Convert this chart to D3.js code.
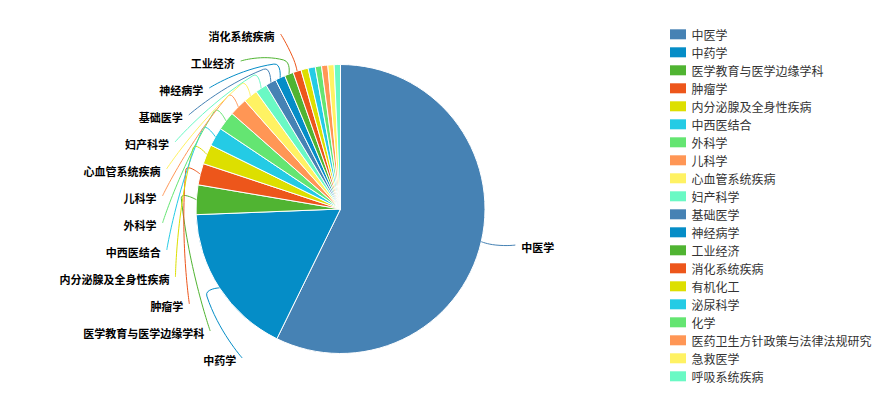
<!DOCTYPE html>
<html>
<head>
<meta charset="utf-8">
<script src="https://cdn.jsdelivr.net/npm/d3@7/dist/d3.min.js"></script>
<style>
  html, body { margin: 0; padding: 0; background: #fff; }
  svg { display: block; font-family: "Noto Sans CJK SC", "Microsoft YaHei", sans-serif; }
</style>
</head>
<body>
<svg id="chart" width="893" height="413"></svg>
<script>
// Subject distribution (number of records per discipline)
const categories = [
  "中医学", "中药学", "医学教育与医学边缘学科", "肿瘤学", "内分泌腺及全身性疾病",
  "中西医结合", "外科学", "儿科学", "心血管系统疾病", "妇产科学",
  "基础医学", "神经病学", "工业经济", "消化系统疾病", "有机化工",
  "泌尿科学", "化学", "医药卫生方针政策与法律法规研究", "急救医学", "呼吸系统疾病"
];
const values = [572, 171, 33, 24, 22, 21, 21, 20, 16, 13, 12, 11, 10, 9, 8, 8, 7, 7, 7, 7];
const palette = ["#4682B4", "#058DC7", "#50B432", "#ED561B", "#DDDF00",
                 "#24CBE5", "#64E572", "#FF9655", "#FFF263", "#6AF9C4"];

const W = 893, H = 413;
const cx = 340.5, cy = 209, r = 144.5;
const len1 = 15, len2 = 19;          // label-line segment lengths
const len2Far = 12;                   // second segment for labels above/below the ring
const rowH = 27;                      // vertical room per outside label
const labelGap = 6;                   // space between line end and text
const minLabelAngle = 3 * Math.PI / 180;
const bottomLimit = H - 55;

const svg = d3.select("#chart");
const color = d3.scaleOrdinal().domain(categories).range(palette);

const data = categories.map((name, i) => ({ name, value: values[i] }));
const arcs = d3.pie().sort(null).value(d => d.value)(data);
const arcGen = d3.arc().innerRadius(0).outerRadius(r);

// slices
svg.append("g")
  .attr("transform", `translate(${cx},${cy})`)
  .selectAll("path")
  .data(arcs)
  .join("path")
  .attr("d", arcGen)
  .attr("fill", d => color(d.data.name))
  .attr("stroke", "#fff")
  .attr("stroke-width", 1)
  .attr("stroke-linejoin", "round");

// outside labels
const labels = arcs
  .filter(a => a.endAngle - a.startAngle >= minLabelAngle)
  .map(a => {
    const mid = (a.startAngle + a.endAngle) / 2;
    const sx = Math.sin(mid), sy = -Math.cos(mid);
    return {
      a,
      dir: sx < 0 ? -1 : 1,
      A: [cx + r * sx, cy + r * sy],
      B: [cx + (r + len1) * sx, cy + (r + len1) * sy],
      y: cy + (r + len1) * sy
    };
  });

function layoutSide(list) {
  list.sort((p, q) => p.y - q.y);
  for (let i = 1; i < list.length; i++) {
    if (list[i].y < list[i - 1].y + rowH) list[i].y = list[i - 1].y + rowH;
  }
  const n = list.length;
  if (n && list[n - 1].y > bottomLimit) {
    const delta = list[n - 1].y - bottomLimit;
    for (let j = n - 1; j >= 0; j--) {
      list[j].y -= delta;
      if (j > 0 && list[j].y > list[j - 1].y + rowH) break;
    }
  }
  const Rl = r + len1 + len2;
  list.forEach(l => {
    const dy = Math.abs(l.y - cy);
    const dx = dy < r + len1 ? Math.sqrt(Rl * Rl - dy * dy) : Math.abs(l.B[0] - cx) + len2Far;
    l.C = [cx + l.dir * dx, l.y];
  });
}
layoutSide(labels.filter(l => l.dir < 0));
layoutSide(labels.filter(l => l.dir > 0));

function smoothLine(p0, p1, p2, s) {
  const v = [p2[0] - p0[0], p2[1] - p0[1]];
  let d0 = Math.hypot(p1[0] - p0[0], p1[1] - p0[1]);
  let d1 = Math.hypot(p2[0] - p1[0], p2[1] - p1[1]);
  const sum = d0 + d1 || 1;
  d0 /= sum; d1 /= sum;
  const c0 = [p1[0] - v[0] * d0 * s, p1[1] - v[1] * d0 * s];
  const c1 = [p1[0] + v[0] * d1 * s, p1[1] + v[1] * d1 * s];
  const p = d3.path();
  p.moveTo(p0[0], p0[1]);
  p.bezierCurveTo(p0[0], p0[1], c0[0], c0[1], p1[0], p1[1]);
  p.bezierCurveTo(c1[0], c1[1], p2[0], p2[1], p2[0], p2[1]);
  return p.toString();
}

const lab = svg.append("g");
lab.selectAll("path")
  .data(labels)
  .join("path")
  .attr("d", l => smoothLine(l.A, l.B, l.C, 0.6))
  .attr("fill", "none")
  .attr("stroke", l => color(l.a.data.name))
  .attr("stroke-width", 1);

lab.selectAll("text")
  .data(labels)
  .join("text")
  .attr("x", l => l.C[0] + l.dir * labelGap)
  .attr("y", l => l.C[1] + 2)
  .attr("text-anchor", l => l.dir < 0 ? "end" : "start")
  .attr("dominant-baseline", "central")
  .attr("font-size", 11)
  .attr("font-weight", "bold")
  .attr("fill", "#000")
  .text(l => l.a.data.name);

// legend
const ly = d3.scalePoint().domain(categories).range([34.3, 376.3]);
const legend = svg.append("g").attr("transform", "translate(670,0)");
const item = legend.selectAll("g")
  .data(categories)
  .join("g")
  .attr("transform", d => `translate(0,${ly(d)})`);
item.append("rect")
  .attr("x", 0).attr("y", -5)
  .attr("width", 16).attr("height", 10)
  .attr("fill", d => color(d));
item.append("text")
  .attr("x", 21.5).attr("y", 0)
  .attr("dominant-baseline", "central")
  .attr("font-size", 12)
  .attr("fill", "#333")
  .text(d => d);
</script>
</body>
</html>
